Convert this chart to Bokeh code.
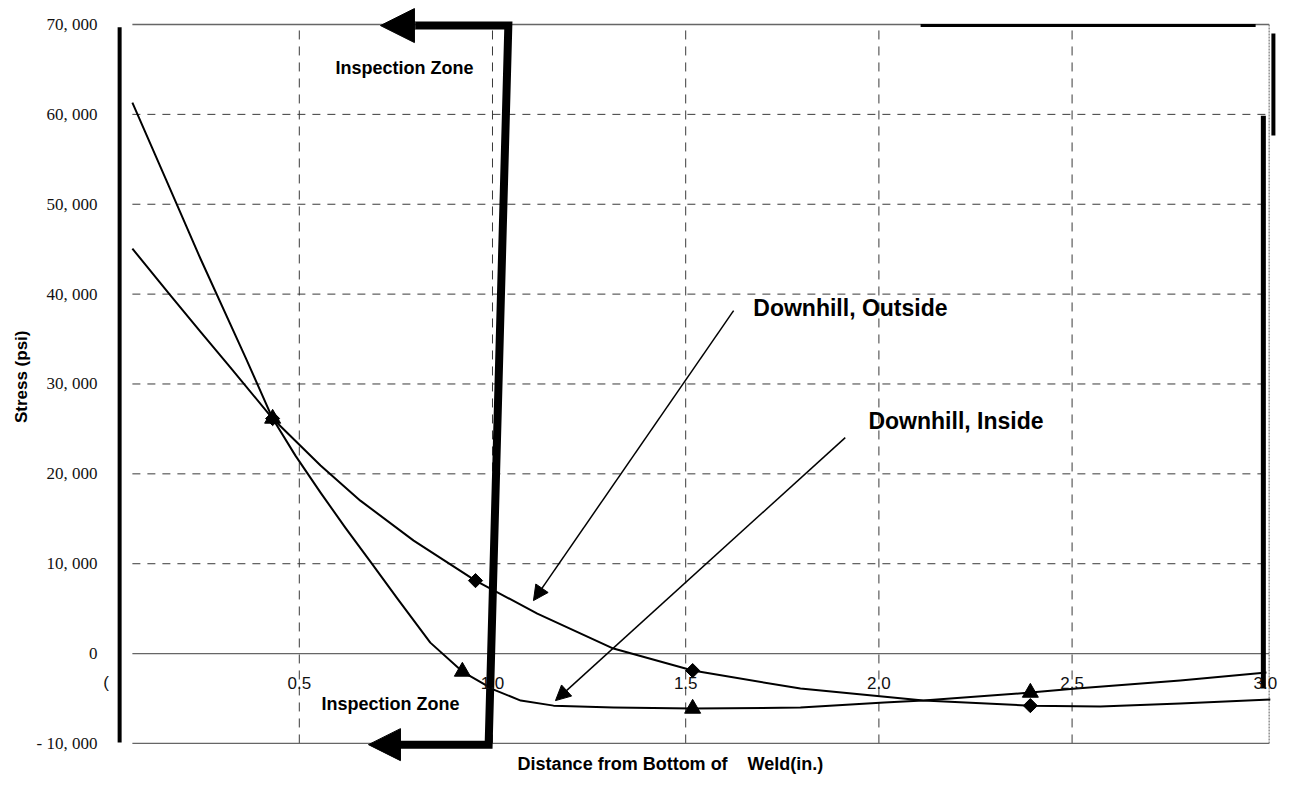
from bokeh.plotting import figure
from bokeh.models import Arrow, NormalHead
from bokeh.core.properties import value
from bokeh.embed import file_html
from bokeh.resources import INLINE
import numpy as np

# ---- data ----
y_ticks = [70000, 60000, 50000, 40000, 30000, 20000, 10000, 0, -10000]
y_tick_labels = ["70, 000", "60, 000", "50, 000", "40, 000", "30, 000",
                 "20, 000", "10, 000", "0", "- 10, 000"]
x_ticks = [0.0, 0.5, 1.0, 1.5, 2.0, 2.5, 3.0]
x_tick_labels = ["(", "0.5", "1.0", "1.5", "2.0", "2.5", "3.0"]

# Downhill, Inside (triangles) - smoothed curve
inside_curve_x = [0.068, 0.154, 0.244, 0.361, 0.431, 0.490, 0.555, 0.619, 0.684,
                  0.754, 0.839, 0.922, 1.003, 1.073, 1.158, 1.313, 1.518, 1.797,
                  2.014, 2.115, 2.392, 2.511, 2.780, 3.003]
inside_curve_y = [61310, 52860, 43960, 32940, 26150, 22030, 17910, 14020, 10240,
                  6120, 1220, -2000, -4010, -5230, -5790, -6010, -6120, -6010,
                  -5450, -5230, -4340, -3890, -3000, -2110]
inside_x = [0.431, 0.922, 1.518, 2.392]
inside_y = [26150, -2000, -6120, -4340]

# Downhill, Outside (diamonds)
outside_curve_x = [0.068, 0.167, 0.244, 0.322, 0.431, 0.555, 0.658, 0.796, 0.956,
                   1.116, 1.313, 1.518, 1.797, 2.115, 2.392, 2.573, 2.780, 3.013]
outside_curve_y = [45060, 39830, 35830, 31820, 26150, 20920, 17020, 12570, 8120,
                   4450, 560, -1890, -3890, -5230, -5790, -5900, -5560, -5120]
outside_x = [0.431, 0.956, 1.518, 2.392]
outside_y = [26150, 8120, -1890, -5790]

grid_y = [10000, 20000, 30000, 40000, 50000, 60000]
grid_x = [0.5, 1.0, 1.5, 2.0, 2.5]

X0, X1 = 0.068, 3.01
Y0, Y1 = -10000, 70000

p = figure(width=1278, height=774, x_range=(-0.2733, 3.0342), y_range=(-13453, 72670),
           output_backend="svg", toolbar_location=None, min_border=0,
           x_axis_location=None, y_axis_location=None)
p.grid.visible = False
p.outline_line_color = None
p.background_fill_color = "white"
p.border_fill_color = "white"

# gridlines
p.segment(x0=[X0] * len(grid_y), y0=grid_y, x1=[X1] * len(grid_y), y1=grid_y,
          line_color="#3a3a3a", line_width=1, line_dash="8 7")
p.segment(x0=grid_x, y0=[Y0] * len(grid_x), x1=grid_x, y1=[Y1] * len(grid_x),
          line_color="#3a3a3a", line_width=1, line_dash="9 7")
# frame lines
p.segment(x0=[X0, X0, X0], y0=[Y1, Y0, 0], x1=[X1, X1, X1], y1=[Y1, Y0, 0],
          line_color="#666666", line_width=1.3)
p.segment(x0=[X1], y0=[Y0], x1=[X1], y1=[Y1], line_color="#777777", line_width=1.2,
          line_dash="2 1")
# heavy strokes drawn over the frame
p.segment(x0=[2.108], y0=[69880], x1=[2.975], y1=[69880], line_color="black", line_width=3)
p.segment(x0=[3.021], y0=[68990], x1=[3.021], y1=[57640], line_color="black", line_width=4)
p.segment(x0=[2.995], y0=[59860], x1=[2.995], y1=[-3890], line_color="black", line_width=5)
p.segment(x0=[0.035], y0=[69700], x1=[0.035], y1=[-9900], line_color="black", line_width=4)

# curves and markers
p.line(outside_curve_x, outside_curve_y, line_color="black", line_width=2, line_join="round")
p.line(inside_curve_x, inside_curve_y, line_color="black", line_width=2, line_join="round")
p.scatter(inside_x, inside_y, marker="triangle", size=16, color="black")
p.scatter(outside_x, outside_y, marker="square", size=10, angle=np.pi / 4, color="black")

# inspection zone bracket
p.line([0.80, 1.041, 0.990, 0.76], [69880, 69880, -10130, -10130],
       line_color="black", line_width=8, line_join="miter")
p.add_layout(Arrow(x_start=0.80, y_start=69880, x_end=0.710, y_end=69880, line_width=9,
                   end=NormalHead(size=34, fill_color="black", line_color="black")))
p.add_layout(Arrow(x_start=0.76, y_start=-10130, x_end=0.679, y_end=-10130, line_width=9,
                   end=NormalHead(size=32, fill_color="black", line_color="black")))

# label arrows
p.add_layout(Arrow(x_start=1.624, y_start=38166, x_end=1.106, y_end=5897, line_width=1.5,
                   end=NormalHead(size=15, fill_color="black", line_color="black")))
p.add_layout(Arrow(x_start=1.913, y_start=24034, x_end=1.163, y_end=-5230, line_width=1.5,
                   end=NormalHead(size=15, fill_color="black", line_color="black")))

# tick labels
p.text(x=[-0.0223] * len(y_ticks), y=y_ticks, text=y_tick_labels,
       text_font=value("Liberation Serif"), text_font_size="17px",
       text_align="right", text_baseline="middle", text_color="#111111")
p.text(x=x_ticks, y=[-3227] * len(x_ticks), text=x_tick_labels,
       text_font=value("Liberation Sans"), text_font_size="17px",
       text_align="center", text_baseline="middle", text_color="#111111")

# annotation texts
bold = dict(text_font=value("Liberation Sans"), text_font_style="bold", text_color="black")
p.text(x=[0.772, 0.736], y=[65204, -5564], text=["Inspection Zone", "Inspection Zone"],
       text_font_size="18px", text_align="center", text_baseline="middle", **bold)
p.text(x=[1.675], y=[38500], text=["Downhill, Outside"], text_font_size="23px",
       text_align="left", text_baseline="middle", **bold)
p.text(x=[1.973], y=[25926], text=["Downhill, Inside"], text_font_size="23px",
       text_align="left", text_baseline="middle", **bold)
p.text(x=[1.065, 1.660], y=[-12240, -12240], text=["Distance from Bottom of", "Weld(in.)"],
       text_font_size="18px", text_align="left", text_baseline="middle", **bold)
p.text(x=[-0.219], y=[30800], text=["Stress (psi)"], angle=np.pi / 2,
       text_font_size="17px", text_align="center", text_baseline="middle", **bold)

open("out.html", "w").write(file_html(p, INLINE))
